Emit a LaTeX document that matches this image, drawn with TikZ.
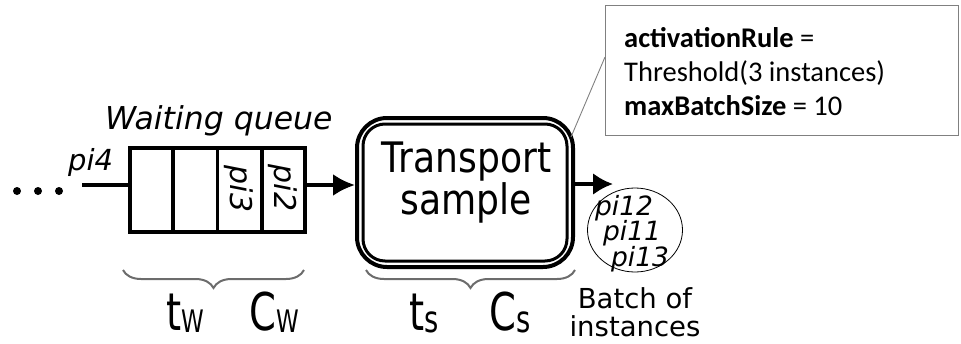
\documentclass[tikz,border=0pt]{standalone}
\usepackage{fontspec}
\setmainfont{DejaVu Sans}
\newfontfamily\sansN[FakeStretch=0.86]{DejaVu Sans}
\newfontfamily\sansNN[FakeStretch=0.74]{DejaVu Sans}
\newfontfamily\calib{Carlito}
\usetikzlibrary{arrows.meta,decorations.pathreplacing,shapes.geometric,calc}
\begin{document}
\begin{tikzpicture}[x=1pt,y=-1pt,
  fs/.style={font=\fontsize{#1}{#1}\selectfont},
  fsi/.style={font=\fontsize{#1}{#1}\selectfont\itshape},
  thk/.style={line width=3.5pt},
  arr/.style={line width=3.5pt,-{Latex[length=22pt,width=22pt]}},
  brc/.style={decorate,decoration={brace,amplitude=18pt},draw=gray!85!black,line width=2pt},
  txt/.style={inner sep=0pt,anchor=base west},
  txtc/.style={inner sep=0pt,anchor=base},
  big/.style={inner sep=0pt,anchor=base west,font=\fontsize{52}{52}\selectfont\sansNN},
  ctxt/.style={inner sep=0pt,anchor=base west,font=\fontsize{28.5}{28.5}\selectfont\calib}
]
\useasboundingbox (0,0) rectangle (961,343);

% leading dots
\fill (17,191) circle (4) (38,191) circle (4) (59,191) circle (4);
\coordinate (start) at (82,185);
\node[txt,fsi=29] (pi4) at (68,170) {pi4};

% waiting queue
\node[txt,fsi=31.5] (wq) at (105,129) {Waiting queue};
\node[draw,thk,minimum width=175pt,minimum height=84pt,inner sep=0pt] (queue) at (217.5,190) {};
\foreach \f in {0.25,0.5,0.75}
  \draw[thk] ($(queue.north west)!\f!(queue.north east)$) -- ($(queue.south west)!\f!(queue.south east)$);
\node[fsi=30,rotate=-90,inner sep=0pt] (pi3) at (239,189) {pi3};
\node[fsi=30,rotate=-90,inner sep=0pt] (pi2) at (283,188) {pi2};
\draw[thk] (start) -- (start -| queue.west);

% transport sample
\node[draw,line width=4pt,rounded corners=30pt,minimum width=216pt,minimum height=149pt,
      inner sep=0pt] (ts) at (465,192.5) {};
\draw[line width=3pt,rounded corners=22pt] ([shift={(8,8)}]ts.north west) rectangle ([shift={(-8,-8)}]ts.south east);
\node[inner sep=0pt,align=center,font=\fontsize{42}{37}\selectfont\sansN] (tslbl) at (466.5,182.5) {Transport\\sample};
\draw[arr] ([yshift=5pt]queue.east) -- ([yshift=5pt]queue.east -| ts.west);

% output arrow and batch
\coordinate (out) at (613,184);
\draw[arr,-{Latex[length=20pt,width=22pt]}] (ts.east |- out) -- (out);
\node[draw,ellipse,line width=0.8pt,minimum width=95pt,minimum height=84pt,inner sep=0pt] (batch) at (635,230) {};
\node[txtc,fsi=26.5] (pi12) at (624,215) {pi12};
\node[txtc,fsi=26.5] (pi11) at (632,240) {pi11};
\node[txtc,fsi=26.5] (pi13) at (640,266) {pi13};
\node[txtc,fs=27.5] (batchl1) at (635,308) {Batch of};
\node[txtc,fs=27.5] (batchl2) at (635,336) {instances};

% callout
\node[draw=gray,line width=1.2pt,minimum width=353pt,minimum height=130pt,inner sep=0pt,anchor=north west] (note) at (605,5) {};
\node[ctxt] (n1) at (624,47) {\textbf{activationRule} =};
\node[ctxt] (n2) at (624,81) {Threshold(3 instances)};
\node[ctxt] (n3) at (624,115) {\textbf{maxBatchSize} = 10};
\coordinate (callend) at (571,137);
\draw[gray,line width=0.9pt] (note.west |- 0,57) -- (callend);

% braces
\draw[brc] (304,270) -- (123,270);
\draw[brc] (575,270) -- (366,270);
\node[big] (tw) at (166,330) {t\raisebox{-2pt}{\fontsize{31}{31}\selectfont W}};
\node[big] (cw) at (249,330) {C\raisebox{-2pt}{\fontsize{31}{31}\selectfont W}};
\node[big] (tsl) at (409,330) {t\raisebox{-2pt}{\fontsize{37}{37}\selectfont s}};
\node[big] (csl) at (489,330) {C\raisebox{-2pt}{\fontsize{37}{37}\selectfont s}};
\end{tikzpicture}
\end{document}
